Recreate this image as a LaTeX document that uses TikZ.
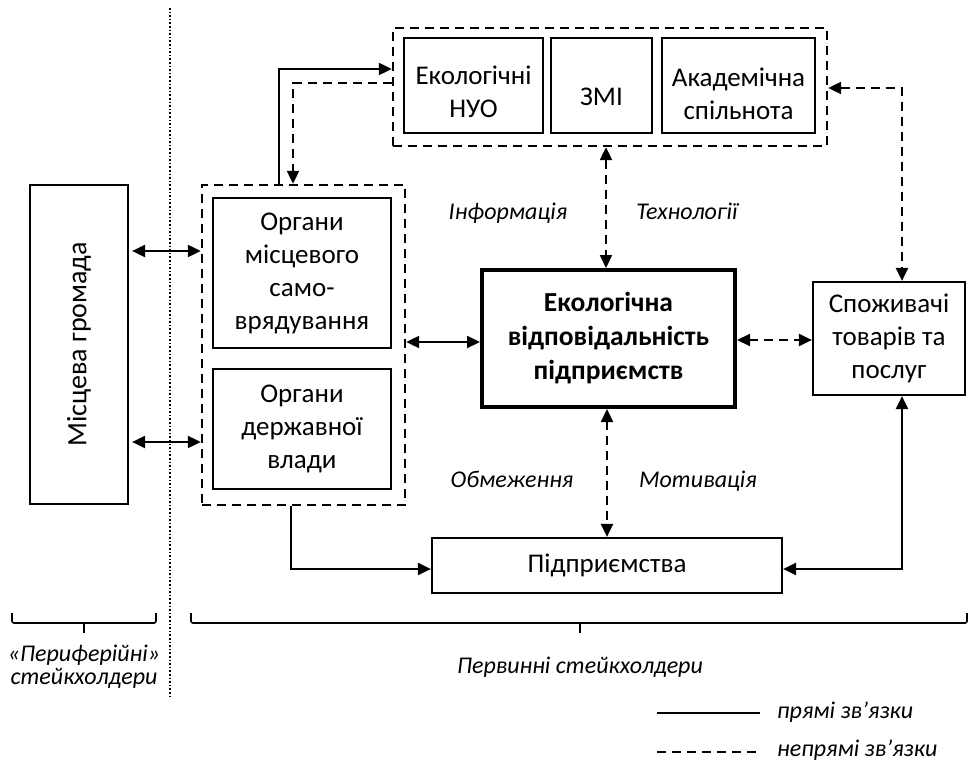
\documentclass[tikz,border=0pt]{standalone}
\usepackage{fontspec}
\setmainfont{Carlito}
\usetikzlibrary{arrows.meta}
\tikzset{
 box/.style={draw, line width=2.2pt, align=center, inner sep=0pt, font=\fontsize{27}{33}\selectfont},
 txt/.style={align=center, inner sep=0pt, font=\fontsize{27}{33}\selectfont},
 grp/.style={draw, line width=2.4pt, dash pattern=on 9pt off 6pt, inner sep=0pt},
 con/.style={line width=2.2pt},
 dcon/.style={line width=2.2pt, dash pattern=on 9pt off 6pt},
 lbl/.style={font=\fontsize{24}{28}\selectfont\itshape, inner sep=0pt},
 brk/.style={line width=1.6pt, rounded corners=2pt},
}
\begin{document}
\begin{tikzpicture}[x=1pt,y=-1pt,>={Triangle[length=13pt,width=12pt]}]
\useasboundingbox (0,0) rectangle (969,762);
% dotted separator
\coordinate (d1) at (170,8);
\coordinate (d2) at (170,698);
\draw[line width=2pt, dash pattern=on 1.6pt off 2pt] (d1) -- (d2);

% groups
\node[grp, minimum width=203pt, minimum height=320pt] (lg) at (303.5,345) {};
\node[grp, minimum width=434pt, minimum height=118pt] (tg) at (610,87) {};

% boxes
\node[box, minimum width=98pt, minimum height=319pt] (mg) at (79,344.5) {};
\node[txt, font=\fontsize{28}{33}\selectfont, rotate=90] (mgt) at (mg.center) {Місцева громада};
\node[box, minimum width=178pt, minimum height=150pt] (oms) at (302,273) {Органи\\місцевого\\само-\\врядування};
\node[box, minimum width=178pt, minimum height=120pt] (odv) at (302,429) {Органи\\державної\\влади};
\node[box, minimum width=139pt, minimum height=95pt] (nuo) at (473.5,85.5) {};
\node[txt] (nuot) at (473.5,92) {Екологічні\\НУО};
\node[box, minimum width=101pt, minimum height=95pt] (zmi) at (601.5,85.5) {};
\node[txt] (zmit) at (601.5,97) {ЗМІ};
\node[box, minimum width=153pt, minimum height=95pt] (akad) at (738.5,85.5) {};
\node[txt] (akadt) at (738.5,94) {Академічна\\спільнота};
\node[box, line width=4pt, minimum width=253pt, minimum height=137pt, font=\fontsize{27.5}{34}\selectfont\bfseries] (evp) at (608.5,338.5) {Екологічна\\відповідальність\\підприємств};
\node[box, minimum width=152pt, minimum height=113pt] (spo) at (889,338.5) {Споживачі\\товарів та\\послуг};
\node[box, minimum width=350pt, minimum height=55pt] (pid) at (607,565.5) {Підприємства};

% labels
\node[lbl, anchor=base] (inf) at (508,220) {Інформація};
\node[lbl, anchor=base] (teh) at (687,220) {Технології};
\node[lbl, anchor=base] (obm) at (512,487) {Обмеження};
\node[lbl, anchor=base] (mot) at (698,487) {Мотивація};

% connector coordinates
\coordinate (a1) at (279,69);
\coordinate (a2) at (293,83);
\coordinate (a3) at (606,0);
\coordinate (a4) at (902,88);
\coordinate (a5) at (0,251);
\coordinate (a6) at (0,442);
\coordinate (a7) at (0,342);
\coordinate (a8) at (0,340);
\coordinate (a9) at (607,0);
\coordinate (a10) at (291,569);
\coordinate (a11) at (902,569);

\draw[con,->] (lg.north -| a1) |- (tg.west |- a1);
\draw[dcon,->] (tg.west |- a2) -| (lg.north -| a2);
\draw[dcon,<->] (tg.south -| a3) -- (evp.north -| a3);
\draw[dcon,<->] (tg.east |- a4) -| (spo.north -| a4);
\draw[con,<->,shorten <=3pt] (mg.east |- a5) -- (lg.west |- a5);
\draw[con,<->,shorten <=3pt] (mg.east |- a6) -- (lg.west |- a6);
\draw[con,<->] (lg.east |- a7) -- (evp.west |- a7);
\draw[dcon,<->] (evp.east |- a8) -- (spo.west |- a8);
\draw[dcon,<->] (evp.south -| a9) -- (pid.north -| a9);
\draw[con,->] (lg.south -| a10) |- (pid.west |- a10);
\draw[con,<->] (pid.east |- a11) -| (spo.south -| a11);

% brackets
\draw[brk] (12,613) -- (12,623) -- (156,623) -- (156,613);
\draw[brk] (84,623) -- (84,633);
\draw[brk] (191,613) -- (191,623) -- (967,623) -- (967,613);
\draw[brk] (580,623) -- (580,633);
\node[lbl, align=center, font=\fontsize{24}{23}\selectfont\itshape] (per) at (84,667) {«Периферійні»\\стейкхолдери};
\node[lbl, anchor=base] (perv) at (580,673) {Первинні стейкхолдери};

% legend
\coordinate (l1a) at (657,713);
\coordinate (l1b) at (760,713);
\coordinate (l2a) at (657,752);
\coordinate (l2b) at (760,752);
\draw[con] (l1a) -- (l1b);
\draw[dcon] (l2a) -- (l2b);
\node[lbl, anchor=base west] (lt1) at (777,718) {прямі зв’язки};
\node[lbl, anchor=base west] (lt2) at (777,756) {непрямі зв’язки};
\end{tikzpicture}
\end{document}
